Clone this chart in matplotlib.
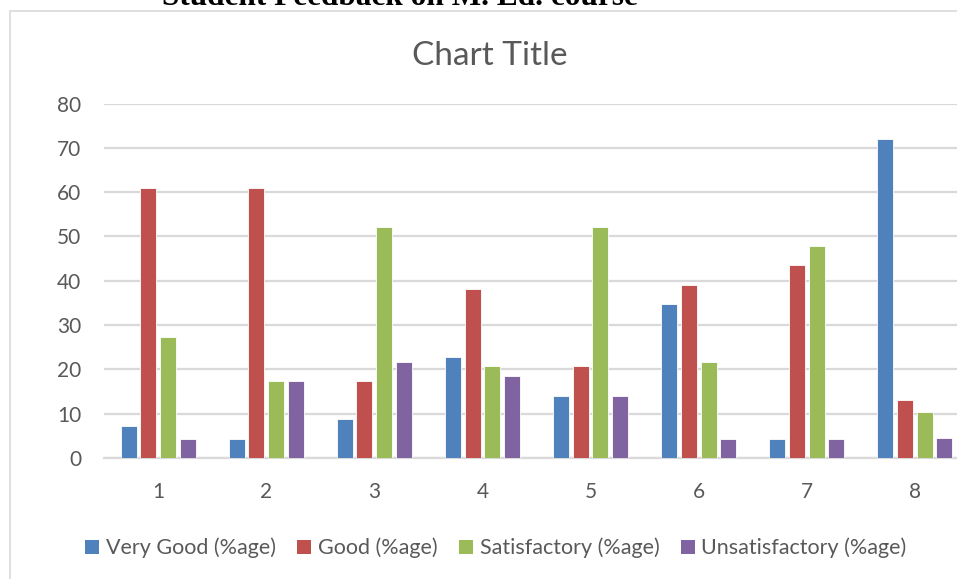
import numpy as np
import matplotlib.pyplot as plt
from matplotlib.patches import Patch, Rectangle

# data
categories = ['1', '2', '3', '4', '5', '6', '7', '8']
very_good = [7.3, 4.3, 8.7, 22.7, 14.0, 34.7, 4.3, 72.1]
good = [60.9, 60.9, 17.4, 38.1, 20.7, 39.1, 43.5, 13.0]
satisfactory = [27.4, 17.4, 52.2, 20.7, 52.2, 21.7, 47.8, 10.4]
unsatisfactory = [4.3, 17.4, 21.7, 18.4, 14.0, 4.3, 4.3, 4.5]
series_names = ['Very Good (%age)', 'Good (%age)', 'Satisfactory (%age)', 'Unsatisfactory (%age)']
yticks = [0, 10, 20, 30, 40, 50, 60, 70, 80]

COLORS = ['#4f81bd', '#c0504d', '#9bbb59', '#8064a2']
TEXT = '#595959'
GRID = '#d9d9d9'
FONT = 'Lato'

W, H = 957, 579
fig = plt.figure(figsize=(W / 100, H / 100), dpi=100)

# page heading, clipped at the top like the screenshot
fig.text(400 / W, 1 - 5 / H, 'Student Feedback on M. Ed. course', ha='center', va='baseline',
         fontsize=22.5, fontweight='bold', family='Liberation Serif', color='black')

# chart frame
fig.patches.append(Rectangle((10 / W, -0.1), 1.2, 1 - 11 / H + 0.1, transform=fig.transFigure,
                             fill=False, edgecolor=GRID, linewidth=1.2))

ax = fig.add_axes([104 / W, 1 - 458 / H, 865 / W, 354.5 / H])
x = np.arange(len(categories))
pitch = 0.182
width = 0.148
for i, (vals, name) in enumerate(zip([very_good, good, satisfactory, unsatisfactory], series_names)):
    ax.bar(x + (i - 1.5) * pitch, vals, width=width, color=COLORS[i], edgecolor='white',
           linewidth=0.6, label=name, zorder=3)

ax.set_xlim(-0.5, len(categories) - 0.5)
ax.set_ylim(0, 80)
ax.set_yticks(yticks)
ax.set_xticks(x)
ax.set_xticklabels(categories)
ax.yaxis.grid(True, color=GRID, linewidth=1.6, zorder=0)
ax.set_axisbelow(True)
for s in ['top', 'right', 'left']:
    ax.spines[s].set_visible(False)
ax.spines['bottom'].set_color(GRID)
ax.spines['bottom'].set_linewidth(1.6)
ax.tick_params(axis='both', length=0, labelsize=15, labelcolor=TEXT)
ax.tick_params(axis='y', pad=16.5)
ax.tick_params(axis='x', pad=17)
for lbl in ax.get_xticklabels() + ax.get_yticklabels():
    lbl.set_family(FONT)

fig.text(490 / W, 1 - 56 / H, 'Chart Title', ha='center', va='center',
         fontsize=24, family=FONT, color=TEXT)

handles = [Patch(facecolor=c, edgecolor='none') for c in COLORS]
fig.legend(handles, series_names, loc='center', bbox_to_anchor=(496 / W, 1 - 548 / H),
           ncol=4, frameon=False, handlelength=0.65, handleheight=0.65, handletextpad=0.3,
           columnspacing=1.0, prop={'family': FONT, 'size': 15.5}, labelcolor=TEXT)

fig.savefig('out.png', dpi=100)
